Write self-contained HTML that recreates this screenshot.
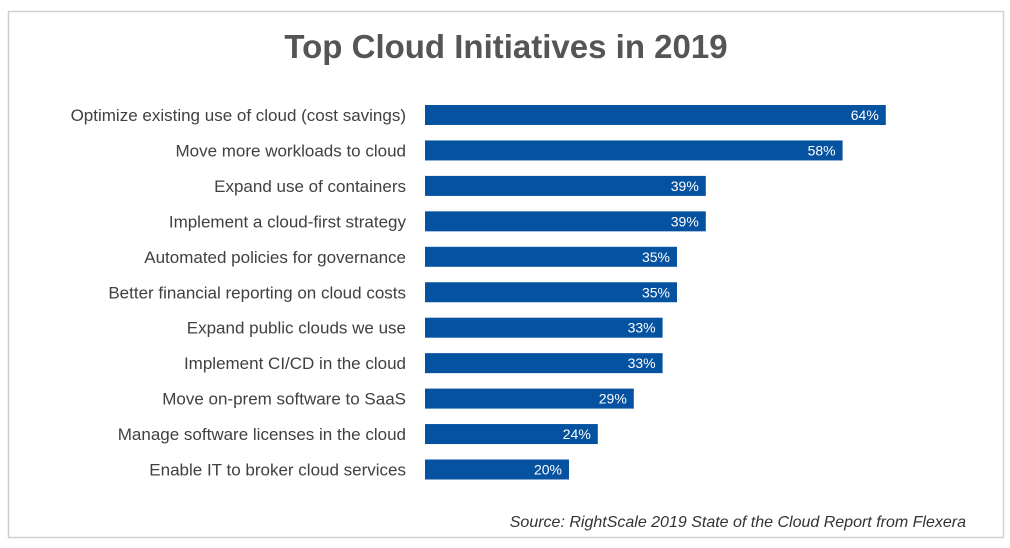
<!DOCTYPE html>
<html><head><meta charset="utf-8"><style>
body{margin:0;background:#fff;}
svg text{font-family:"Liberation Sans",sans-serif;}
</style></head><body>
<svg width="1010" height="543" xmlns="http://www.w3.org/2000/svg">
<rect x="8.5" y="11.5" width="995" height="526" fill="#fff" stroke="#d0d0d0" stroke-width="1.5"/>
<text x="506" y="58" text-anchor="middle" font-size="33" font-weight="bold" fill="#555">Top Cloud Initiatives in 2019</text>
<g id="bars"></g>
<text x="966" y="527" text-anchor="end" font-size="16" font-style="italic" fill="#333">Source: RightScale 2019 State of the Cloud Report from Flexera</text>
</svg>
<script>
const categories=["Optimize existing use of cloud (cost savings)","Move more workloads to cloud","Expand use of containers","Implement a cloud-first strategy","Automated policies for governance","Better financial reporting on cloud costs","Expand public clouds we use","Implement CI/CD in the cloud","Move on-prem software to SaaS","Manage software licenses in the cloud","Enable IT to broker cloud services"];
const values=[64,58,39,39,35,35,33,33,29,24,20];
const x0=425, pxPer=7.2, y0=115, step=35.45, bh=20;
const xs=v=>x0+v*pxPer;
const ys=i=>y0+i*step;
const g=document.getElementById('bars');
const NS="http://www.w3.org/2000/svg";
categories.forEach((c,i)=>{
  const cy=ys(i);
  const t=document.createElementNS(NS,'text');
  
  
  t.setAttribute('x',406);t.setAttribute('y',cy+6);t.setAttribute('text-anchor','end');
  t.setAttribute('font-size','17');t.setAttribute('fill','#404040');t.textContent=c;g.appendChild(t);
  const r=document.createElementNS(NS,'rect');
  
  
  r.setAttribute('x',x0);r.setAttribute('y',cy-bh/2);r.setAttribute('width',xs(values[i])-x0);r.setAttribute('height',bh);
  r.setAttribute('fill','#0552a0');g.appendChild(r);
  const v=document.createElementNS(NS,'text');
  
  
  v.setAttribute('x',xs(values[i])-7);v.setAttribute('y',cy+5);v.setAttribute('text-anchor','end');
  v.setAttribute('font-size','14');v.setAttribute('fill','#fff');v.textContent=values[i]+'%';g.appendChild(v);
});
</script>
</body></html>
